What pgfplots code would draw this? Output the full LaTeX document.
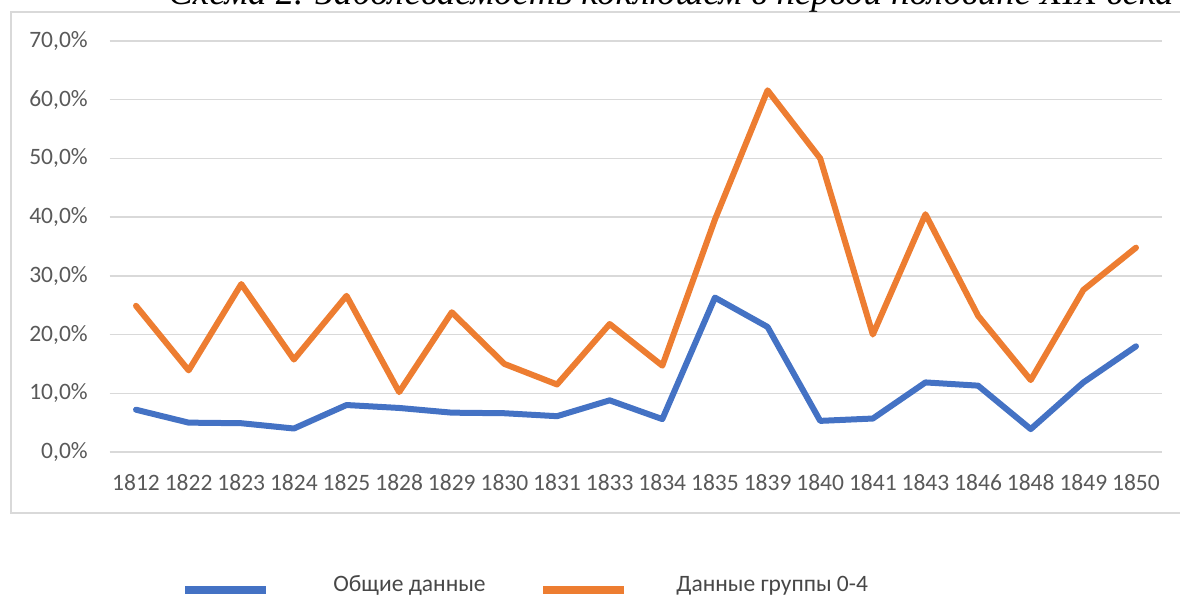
\documentclass[border=0pt]{standalone}
\usepackage{pgfplots}
\pgfplotsset{compat=1.18}
\usepackage{fontspec}
\setmainfont{Carlito}
\newfontfamily\titlefont{Liberation Serif}
\definecolor{cblue}{HTML}{4472C4}
\definecolor{corange}{HTML}{ED7D31}
\definecolor{cgrid}{HTML}{D9D9D9}
\definecolor{ctext}{HTML}{595959}
\begin{document}
\begin{tikzpicture}[x=0.5pt,y=0.5pt]
\useasboundingbox (0,0) rectangle (1180,595);
\clip (0,0) rectangle (1180,595);
\draw[cgrid, line width=0.9pt] (11,82) rectangle (1200,583);
\node[anchor=base west, inner sep=0pt, font=\titlefont\itshape\fontsize{18.4}{22}\selectfont] at (168,590) {Схема 2. Заболеваемость коклюшем в первой половине XIX века};
\begin{axis}[
  at={(54.85pt,71.5pt)}, anchor=south west,
  scale only axis, width=526.3pt, height=205.5pt,
  xmin=-0.5, xmax=19.5, ymin=0, ymax=70,
  xtick={0,...,19},
  xticklabels={1812,1822,1823,1824,1825,1828,1829,1830,1831,1833,1834,1835,1839,1840,1841,1843,1846,1848,1849,1850},
  ytick={0,10,...,70},
  yticklabel={\pgfmathprintnumber[fixed,fixed zerofill,precision=1,use comma]{\tick}\%},
  /pgf/number format/assume math mode=true,
  axis line style={draw=none},
  ymajorgrids, grid style={cgrid, line width=0.75pt},
  major tick length=0pt,
  tick label style={font=\fontsize{11.75}{14}\selectfont, text=ctext},
  yticklabel style={anchor=east, inner sep=0pt, xshift=-10.8pt},
  xticklabel style={anchor=north, inner sep=0pt, yshift=-11pt},
  clip=false,
]
\addplot[cblue, line width=3pt, line cap=round, line join=round] coordinates {
(0,7.2) (1,5.0) (2,4.9) (3,4.0) (4,8.0) (5,7.5) (6,6.7) (7,6.6) (8,6.1) (9,8.8)
(10,5.6) (11,26.3) (12,21.3) (13,5.3) (14,5.7) (15,11.85) (16,11.3) (17,3.9) (18,11.85) (19,18.0)};
\addplot[corange, line width=3pt, line cap=round, line join=round] coordinates {
(0,24.9) (1,13.9) (2,28.6) (3,15.75) (4,26.6) (5,10.2) (6,23.8) (7,15.0) (8,11.5) (9,21.8)
(10,14.7) (11,39.6) (12,61.6) (13,50.0) (14,20.0) (15,40.5) (16,23.2) (17,12.25) (18,27.6) (19,34.8)};
\end{axis}
\draw[cblue, line width=4pt] (185,5) -- (266,5);
\draw[corange, line width=4pt] (543,5) -- (624,5);
\node[anchor=base west, inner sep=0pt, text=ctext!80!black, font=\fontsize{11.75}{14}\selectfont] at (333,3) {Общие данные};
\node[anchor=base west, inner sep=0pt, text=ctext!80!black, font=\fontsize{11.75}{14}\selectfont] at (676,3) {Данные группы 0-4};
\end{tikzpicture}
\end{document}
